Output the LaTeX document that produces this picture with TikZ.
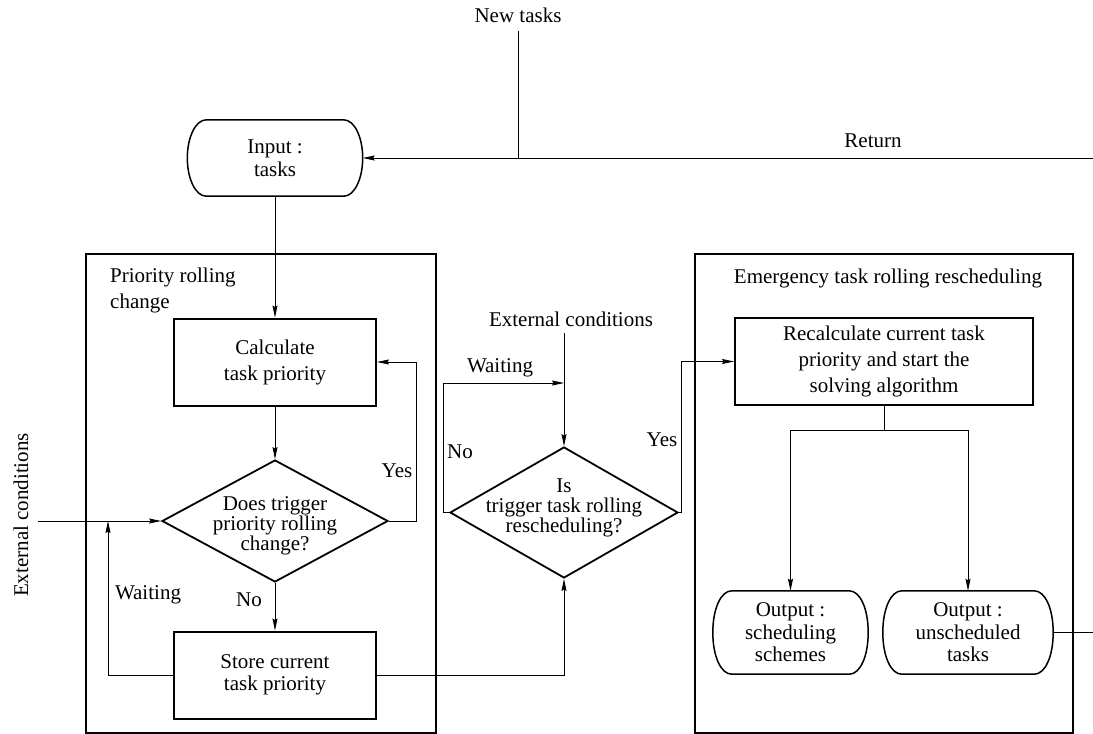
\documentclass[tikz,border=0pt]{standalone}
\usepackage{fontspec}
\setmainfont{Liberation Serif}
\usetikzlibrary{arrows.meta,shapes.geometric}
\newcommand{\termoutline}[1]{%
  \draw[line width=1.5pt]
    ([xshift=19pt]#1.north west) -- ([xshift=-19pt]#1.north east)
    .. controls ([xshift=-8pt]#1.north east) and ([yshift=-18pt]#1.north east) .. (#1.east)
    .. controls ([yshift=18pt]#1.south east) and ([xshift=-8pt]#1.south east) .. ([xshift=-19pt]#1.south east)
    -- ([xshift=19pt]#1.south west)
    .. controls ([xshift=8pt]#1.south west) and ([yshift=18pt]#1.south west) .. (#1.west)
    .. controls ([yshift=-18pt]#1.north west) and ([xshift=8pt]#1.north west) .. ([xshift=19pt]#1.north west)
    -- cycle;}
\begin{document}
\begin{tikzpicture}[x=1pt,y=-1pt,
  font=\fontsize{21}{26}\selectfont,
  box/.style={draw,line width=2pt,align=center,inner sep=0pt,minimum height=87pt},
  term/.style={rectangle,align=center,inner sep=0pt},
  dia/.style={draw,line width=1.8pt,diamond,inner sep=0pt},
  dtext/.style={align=center,inner sep=0pt,font=\fontsize{21}{20}\selectfont},
  frame/.style={draw,line width=1.8pt,inner sep=0pt},
  conn/.style={line width=0.8pt},
  arr/.style={conn,-{Stealth[length=12pt,width=5pt,inset=1.5pt]}},
  lbl/.style={inner sep=0pt}
]
\useasboundingbox (0,0) rectangle (1093,734);

% frames
\node[frame,minimum width=350pt,minimum height=479pt] (lf) at (261,493.5) {};
\node[frame,minimum width=378pt,minimum height=479pt] (rf) at (884,493.5) {};
\node[lbl,align=left,anchor=north west] (lft) at (110,268) {Priority rolling\\change};
\node[lbl] (rft) at (888,278) {Emergency task rolling rescheduling};

% top
\node[lbl] (newt) at (518,15) {New tasks};
\node[term,minimum width=175pt,minimum height=76pt,font=\fontsize{21}{23}\selectfont] (in) at (275,158) {Input :\\tasks};
\termoutline{in}
\coordinate (nt) at (518,31);
\coordinate (ntj) at (518,158);
\coordinate (retR) at (1093,158);
\draw[conn] (nt) -- (ntj);
\draw[arr] (retR) -- (in.east);
\node[lbl] (ret) at (873,141) {Return};

% left column
\node[box,minimum width=202pt] (calc) at (275,362) {Calculate\\task priority};
\node[dia,minimum width=226pt,minimum height=122pt,
  label={[dtext,yshift=-5pt]center:Does trigger\\priority rolling\\change?}] (d1) at (275,521) {};
\node[box,minimum width=202pt,font=\fontsize{21}{22}\selectfont] (store) at (275,675) {Store current\\task priority};

\draw[arr] (in.south) -- (calc.north);
\draw[arr] (calc.south) -- (d1.north);
\draw[arr] (d1.south) -- (store.north);
\draw[arr] (d1.east) -- (416,521) |- (calc.east);
\node[lbl] (yes1) at (397,471) {Yes};
\node[lbl] (no1) at (249,600) {No};

\node[lbl,rotate=90] (ext1) at (21,515) {External conditions};
\coordinate (e1) at (38,521);
\coordinate (j1) at (108,521);
\draw[arr] (e1) -- (d1.west);
\draw[arr] (store.west) -| (j1);
\node[lbl] (wait1) at (148,595) {Waiting};

% middle
\node[dia,minimum width=228pt,minimum height=131pt,
  label={[dtext,yshift=4.5pt]center:Is\\trigger task rolling\\rescheduling?}] (d2) at (564,512.5) {};
\node[lbl] (ext2) at (571,319) {External conditions};
\coordinate (e2) at (564,333);
\coordinate (j2) at (564,383);
\draw[arr] (e2) -- (d2.north);
\draw[arr] (d2.west) -- (443,512.5) |- (j2);
\node[lbl] (wait2) at (500,368) {Waiting};
\node[lbl] (no2) at (460,452) {No};
\draw[arr] (store.east) -| (d2.south);

% right column
\node[box,minimum width=298pt] (rec) at (884,361.5) {Recalculate current task\\priority and start the\\solving algorithm};
\draw[arr] (d2.east) -- (681,512.5) |- (rec.west);
\node[lbl] (yes2) at (662,440) {Yes};

\node[term,minimum width=155pt,minimum height=83pt,font=\fontsize{21}{22.5}\selectfont] (o1) at (790.5,632.5) {Output :\\scheduling\\schemes};
\termoutline{o1}
\node[term,minimum width=170pt,minimum height=83pt,font=\fontsize{21}{22.5}\selectfont] (o2) at (968,632.5) {Output :\\unscheduled\\tasks};
\termoutline{o2}
\coordinate (br) at (884,430);
\draw[arr] (rec.south) -- (br) -| (o1.north);
\draw[arr] (br) -| (o2.north);
\coordinate (outR) at (1093,632.5);
\draw[conn] (o2.east) -- (outR);
\end{tikzpicture}
\end{document}
